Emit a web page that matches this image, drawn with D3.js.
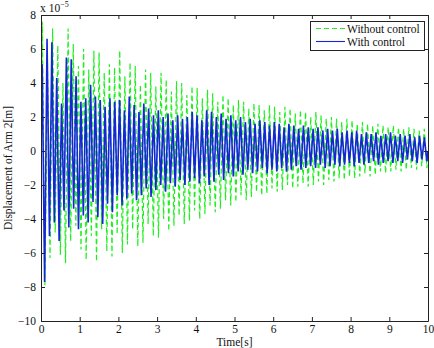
<!DOCTYPE html>
<html><head><meta charset="utf-8">
<script src="https://cdn.jsdelivr.net/npm/d3@7"></script>
<style>body{margin:0;background:#fff}svg{display:block}
svg text{font-family:"Liberation Serif","Times New Roman",Times,"DejaVu Serif",serif !important;}</style>
</head><body>
<script>
// ---- data (units of 1e-5 m) ----
const xTicks = [0,1,2,3,4,5,6,7,8,9,10];
const yTicks = [-10,-8,-6,-4,-2,0,2,4,6,8];
const seriesNames = ["Without control","With control"];
// alternating peak values (top, bottom)
const withoutHalfPeriod = 0.0667;   // s between successive peaks
const withoutPeaks = [
 7.6,-7.9, 5.2,-6.3, 7.2,-4.8, 6.2,-6.1, 4.0,-6.6, 7.2,-5.3, 6.3,-4.4, 5.0,-5.8, 6.0,-6.4, 4.8,-5.0,
 5.9,-6.5, 5.8,-4.6, 4.6,-5.9, 5.1,-6.2, 4.9,-4.9, 5.9,-6.0, 4.4,-5.5, 5.2,-4.6, 5.0,-5.6, 3.9,-5.4,
 4.8,-4.3, 4.6,-5.0, 3.8,-5.1, 4.6,-4.0, 4.2,-4.7, 3.5,-4.4, 4.1,-3.8, 4.0,-4.3, 3.3,-4.1, 3.8,-3.5,
 3.7,-4.0, 3.1,-3.7, 3.6,-3.2, 3.4,-3.6, 2.9,-3.4, 3.3,-2.9, 3.1,-3.2, 2.7,-3.0, 3.0,-2.6, 2.9,-2.9,
 2.5,-2.7, 2.8,-2.4, 2.7,-2.6, 2.4,-2.5, 2.7,-2.2, 2.6,-2.4, 2.3,-2.3, 2.6,-2.0, 2.5,-2.2, 2.2,-2.1,
 2.4,-1.9, 2.3,-2.1, 2.0,-2.0, 2.3,-1.8, 2.1,-2.0, 1.9,-1.7, 2.0,-1.8, 1.9,-1.6, 1.7,-1.7, 1.9,-1.5,
 1.8,-1.6, 1.6,-1.5, 1.7,-1.3, 1.6,-1.5, 1.5,-1.4, 1.6,-1.2, 1.5,-1.3, 1.4,-1.2, 1.5,-1.1, 1.4,-1.2,
 1.3,-1.1, 1.4,-1.0, 1.3,-1.1, 1.2,-0.9, 1.3,-1.0
];
const withHalfPeriod = 0.0625;
const withPeaks = [
 5.1,-7.7, 6.6,-5.0, 6.4,-4.2, 4.3,-5.3, 2.8,-3.5, 5.5,-4.5, 5.4,-3.4, 4.4,-4.6, 2.9,-3.8, 3.1,-4.2,
 3.9,-3.0, 3.2,-3.9, 3.0,-4.3, 2.6,-3.1, 3.1,-3.6, 2.9,-2.6, 3.0,-3.2, 2.4,-2.8, 3.2,-2.5, 2.7,-2.9,
 2.3,-2.6, 2.8,-2.2, 2.5,-2.7, 2.1,-2.3, 2.4,-2.0, 2.0,-2.4, 2.2,-1.9, 1.8,-2.1, 2.1,-1.7, 1.9,-2.0,
 2.0,-1.8, 2.3,-1.6, 2.1,-1.9, 1.8,-1.5, 2.4,-2.0, 2.3,-1.8, 2.0,-1.4, 2.2,-1.7, 1.9,-1.3, 2.1,-1.5,
 1.8,-1.2, 2.0,-1.4, 1.7,-1.1, 1.9,-1.3, 1.6,-1.2, 1.8,-1.0, 1.7,-1.3, 1.5,-1.1, 1.7,-1.2, 1.6,-1.0,
 1.4,-1.2, 1.6,-1.1, 1.5,-0.9, 1.3,-1.1, 1.5,-1.0, 1.4,-0.9, 1.3,-1.0, 1.4,-0.8, 1.2,-1.0, 1.3,-0.9,
 1.2,-0.8, 1.3,-0.9, 1.1,-0.8, 1.2,-0.7, 1.1,-0.9, 1.2,-0.7, 1.0,-0.8, 1.1,-0.7, 1.0,-0.6, 1.1,-0.8,
 0.9,-0.7, 1.0,-0.6, 1.1,-0.7, 0.9,-0.6, 1.0,-0.7, 0.9,-0.5, 1.0,-0.6, 0.8,-0.7, 0.9,-0.5, 0.8,-0.6
];

// ---- layout ----
const W = 434, H = 348;
const m = {left:41, right:6, top:15, bottom:27};
const font = "Liberation Serif, Times New Roman, serif";
const green = "#1fef1f", blue = "#1426d6";
const fs = 11.5;

const svg = d3.select("body").append("svg").attr("width",W).attr("height",H);
const x = d3.scaleLinear().domain([0,10]).range([m.left, W-m.right]);
const y = d3.scaleLinear().domain([-10,8]).range([H-m.bottom, m.top]);

function toPts(peaks, hp){
  const pts = [[0,0]];
  peaks.forEach((v,i)=>{ const t=(i+0.5)*hp; if(t<=10) pts.push([t,v]); });
  pts.push([10,0]);
  return pts;
}
const line = d3.line().x(d=>x(d[0])).y(d=>y(d[1]));

svg.append("defs").append("clipPath").attr("id","clip")
  .append("rect").attr("x",m.left).attr("y",m.top)
  .attr("width",W-m.left-m.right).attr("height",H-m.top-m.bottom);

const plot = svg.append("g").attr("clip-path","url(#clip)");
plot.append("path").datum(toPts(withoutPeaks, withoutHalfPeriod))
  .attr("d",line).attr("fill","none").attr("stroke",green)
  .attr("stroke-width",1.2).attr("stroke-dasharray","5,3");
plot.append("path").datum(toPts(withPeaks, withHalfPeriod))
  .attr("d",line).attr("fill","none").attr("stroke",blue)
  .attr("stroke-width",1.6);

// axes (ticks inward, box)
const fmt = d => d<0 ? "\u2212"+Math.abs(d) : String(d);
const gx = svg.append("g").attr("transform",`translate(0,${H-m.bottom})`)
  .call(d3.axisBottom(x).tickValues(xTicks).tickSizeInner(-4).tickSizeOuter(0).tickPadding(4).tickFormat(fmt));
const gxt = svg.append("g").attr("transform",`translate(0,${m.top})`)
  .call(d3.axisTop(x).tickValues(xTicks).tickSizeInner(-4).tickSizeOuter(0).tickFormat(""));
const gy = svg.append("g").attr("transform",`translate(${m.left},0)`)
  .call(d3.axisLeft(y).tickValues(yTicks).tickSizeInner(-4).tickSizeOuter(0).tickPadding(5).tickFormat(fmt));
const gyr = svg.append("g").attr("transform",`translate(${W-m.right},0)`)
  .call(d3.axisRight(y).tickValues(yTicks).tickSizeInner(-4).tickSizeOuter(0).tickFormat(""));
[gx,gxt,gy,gyr].forEach(g=>{
  g.attr("font-family",font).attr("font-size",fs);
  g.selectAll("path").attr("stroke","#222").attr("stroke-width",1);
  g.selectAll("line").attr("stroke","#222");
  g.selectAll("text").attr("font-family",font).attr("font-size",fs).attr("fill","#111");
});

// exponent label
const ex = svg.append("text").attr("x",m.left-1).attr("y",m.top-3)
  .attr("font-family",font).attr("font-size",fs).attr("fill","#111");
ex.append("tspan").text("x 10");
ex.append("tspan").attr("dy",-5).attr("font-size",8).text("\u22125");

// axis titles
svg.append("text").attr("x",(m.left+W-m.right)/2).attr("y",H-2)
  .attr("text-anchor","middle").attr("font-family",font).attr("font-size",fs).attr("fill","#111")
  .text("Time[s]");
svg.append("text").attr("transform",`translate(12,${(m.top+H-m.bottom)/2}) rotate(-90)`)
  .attr("text-anchor","middle").attr("font-family",font).attr("font-size",fs).attr("fill","#111")
  .text("Displacement of Arm 2[m]");

// legend
const lg = svg.append("g");
lg.append("rect").attr("x",310.5).attr("y",21.5).attr("width",114).attr("height",29)
  .attr("fill","#fff").attr("stroke","#222").attr("stroke-width",1);
const items = [{name:seriesNames[0],color:green,dash:"5,3"},{name:seriesNames[1],color:blue,dash:null}];
items.forEach((it,i)=>{
  const yy = 28.5 + i*13;
  lg.append("line").attr("x1",316).attr("x2",345).attr("y1",yy).attr("y2",yy)
    .attr("stroke",it.color).attr("stroke-width",1.1).attr("stroke-dasharray",it.dash);
  lg.append("text").attr("x",347).attr("y",yy+4).attr("font-family",font)
    .attr("font-size",fs).attr("fill","#111").text(it.name);
});
</script>
</body></html>
